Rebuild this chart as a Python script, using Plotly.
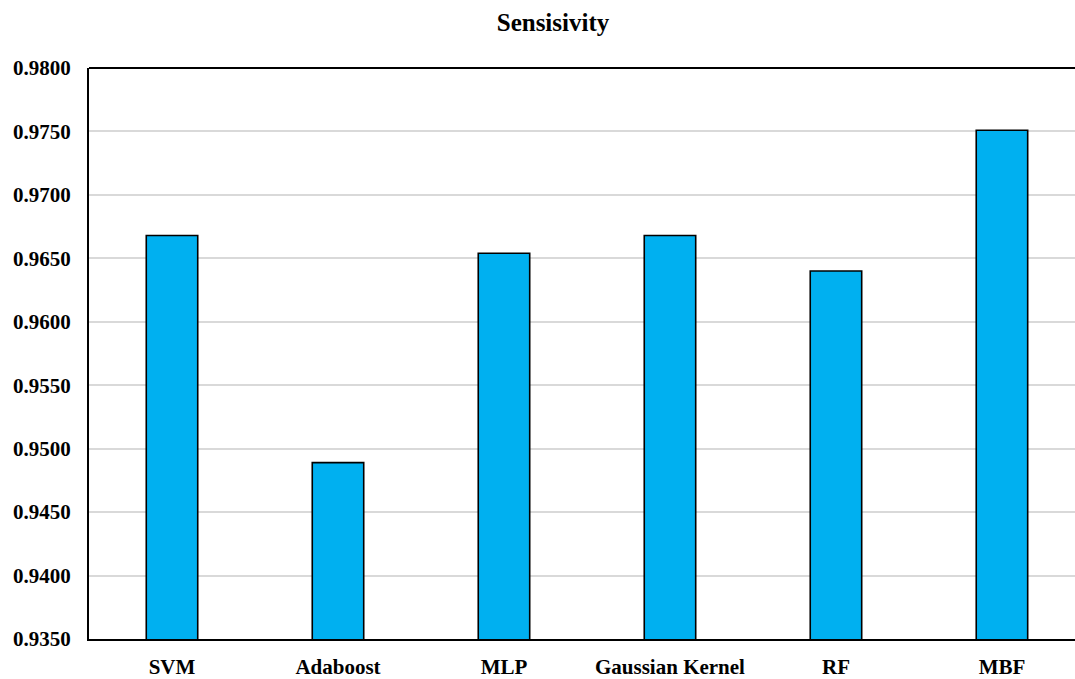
import plotly.graph_objects as go

# Sensitivity per classifier
models = ["SVM", "Adaboost", "MLP", "Gaussian Kernel", "RF", "MBF"]
sensitivity = [0.9668, 0.9489, 0.9654, 0.9668, 0.9640, 0.9751]

y_ticks = [0.9350, 0.9400, 0.9450, 0.9500, 0.9550, 0.9600, 0.9650, 0.9700, 0.9750, 0.9800]

FONT = "Liberation Serif, Times New Roman, serif"

fig = go.Figure(
    go.Bar(
        x=list(range(len(models))),
        y=sensitivity,
        width=0.31,
        marker=dict(color="#00b0f0", line=dict(color="#000000", width=1.6)),
        hoverinfo="x+y",
    )
)

fig.update_layout(
    width=1075,
    height=679,
    margin=dict(l=89, r=0, t=68, b=38),
    paper_bgcolor="white",
    plot_bgcolor="white",
    showlegend=False,
    font=dict(family=FONT, color="#000000"),
    title=dict(
        text="<b>Sensisivity</b>",
        x=553 / 1075,
        xanchor="center",
        y=1 - 22 / 679,
        yanchor="middle",
        font=dict(family=FONT, size=25, color="#000000"),
    ),
)

fig.update_xaxes(
    tickmode="array",
    tickvals=list(range(len(models))),
    ticktext=[f"<b>{m}</b>" for m in models],
    range=[-0.5, 5.44],
    showgrid=False,
    showline=True,
    linecolor="#000000",
    linewidth=2,
    ticks="",
    ticklabelstandoff=8,
    tickfont=dict(family=FONT, size=21, color="#000000"),
    mirror=False,
)

fig.update_yaxes(
    range=[0.9350, 0.9800],
    tickmode="array",
    tickvals=y_ticks,
    ticktext=[f"<b>{v:.4f}</b>" for v in y_ticks],
    showgrid=True,
    gridcolor="#d9d9d9",
    gridwidth=1.5,
    showline=True,
    linecolor="#000000",
    linewidth=2,
    ticks="",
    ticklabelstandoff=12,
    tickfont=dict(family=FONT, size=21, color="#000000"),
    zeroline=False,
)

# top frame line across the plot area
fig.add_shape(
    type="line", xref="paper", yref="paper",
    x0=0, x1=1, y0=1, y1=1,
    line=dict(color="#000000", width=2),
)

fig.write_html("out.html")
